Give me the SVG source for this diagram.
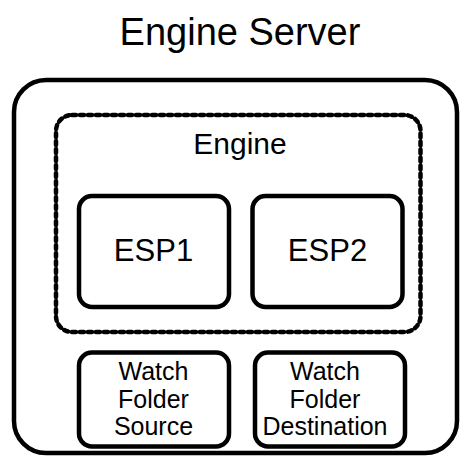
<svg xmlns="http://www.w3.org/2000/svg" width="460" height="456" viewBox="0 0 460 456">
<style>
.t{font-family:"Liberation Sans",Arial,sans-serif;fill:#000;text-anchor:middle}
.box{fill:#fff;stroke:#000;stroke-width:4.5}
.dash{fill:none;stroke:#000;stroke-width:4.5;stroke-dasharray:4 4;stroke-linecap:round}
.w{font-size:25px}
</style>
<rect width="460" height="456" fill="#fff"/>
<text class="t" x="240" y="45" font-size="38">Engine Server</text>
<g id="engine-server">
<rect class="box" x="14" y="80" width="443" height="373" rx="32"/>
</g>
<g id="engine">
<rect class="dash" x="56" y="115" width="364.5" height="217" rx="16"/>
<text class="t" x="240" y="154" font-size="30">Engine</text>
</g>
<g id="esp1">
<rect class="box" x="79" y="196" width="150" height="111" rx="13"/>
<text class="t" x="153.5" y="261" font-size="31">ESP1</text>
</g>
<g id="esp2">
<rect class="box" x="252.5" y="196" width="150" height="111" rx="13"/>
<text class="t" x="327.5" y="261" font-size="31">ESP2</text>
</g>
<g id="wf-source">
<rect class="box" x="79" y="352.5" width="150" height="94" rx="13"/>
<text class="t w" x="153.5" y="380">Watch</text>
<text class="t w" x="153.5" y="407.5">Folder</text>
<text class="t w" x="153.5" y="435">Source</text>
</g>
<g id="wf-dest">
<rect class="box" x="255" y="352.5" width="150" height="94" rx="13"/>
<text class="t w" x="325" y="380">Watch</text>
<text class="t w" x="325" y="407.5">Folder</text>
<text class="t w" x="325" y="435">Destination</text>
</g>
<g id="connectors"></g>
</svg>
